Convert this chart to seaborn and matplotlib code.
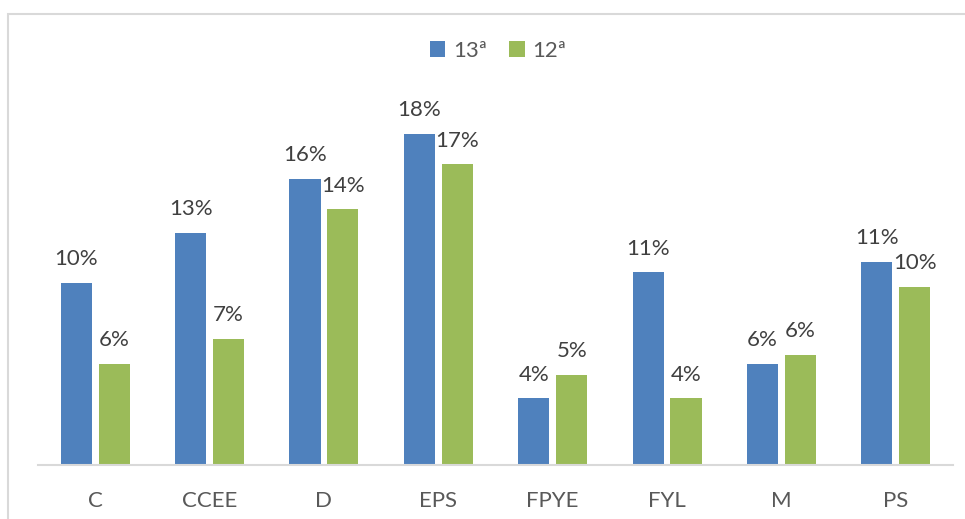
import pandas as pd
import matplotlib
matplotlib.use("Agg")
import matplotlib.pyplot as plt
from matplotlib.patches import Rectangle
import seaborn as sns

categories = ["C", "CCEE", "D", "EPS", "FPYE", "FYL", "M", "PS"]
vals_13 = [10.1, 12.9, 15.9, 18.4, 3.7, 10.7, 5.6, 11.3]
vals_12 = [5.6, 7.0, 14.2, 16.7, 5.0, 3.7, 6.1, 9.9]
series = ["13ª", "12ª"]
colors = ["#4F81BD", "#9BBB59"]

df = pd.DataFrame({
    "cat": categories * 2,
    "serie": [series[0]] * len(categories) + [series[1]] * len(categories),
    "val": vals_13 + vals_12,
})

sns.set_style("white")
plt.rcParams["font.family"] = ["Lato", "DejaVu Sans"]

fig = plt.figure(figsize=(9.65, 5.19), dpi=100)
ax = fig.add_axes([38 / 965, 54 / 519, 915 / 965, 360 / 519])

sns.barplot(data=df, x="cat", y="val", hue="serie", hue_order=series,
            palette=colors, width=0.664, gap=0.18, saturation=1,
            edgecolor="none", ax=ax, legend=True)

for cont in ax.containers:
    labs = ["%d%%" % round(b.get_height()) for b in cont]
    ax.bar_label(cont, labels=labs, padding=10, fontsize=16, color="#404040")

ax.set_xlim(-0.5, 7.5)
ax.set_ylim(0, 20)
ax.set_xlabel("")
ax.set_ylabel("")
ax.set_yticks([])
for s in ["top", "right", "left"]:
    ax.spines[s].set_visible(False)
ax.spines["bottom"].set_color("#D9D9D9")
ax.spines["bottom"].set_linewidth(1.5)
ax.tick_params(axis="x", length=0, pad=19, labelsize=16, labelcolor="#595959")

handles, labels = ax.get_legend_handles_labels()
ax.get_legend().remove()
fig.legend(handles, labels, loc="center", bbox_to_anchor=(498 / 965, 1 - 51 / 519),
           ncol=2, frameon=False, fontsize=16, handlelength=0.7, handleheight=0.7,
           handletextpad=0.35, columnspacing=1.0, labelcolor="#595959")

fig.add_artist(Rectangle((8 / 965, -0.1), 1.5, 1 - 14 / 519 + 0.1,
                         transform=fig.transFigure, fill=False,
                         edgecolor="#D9D9D9", linewidth=1.5))

fig.savefig("out.png", dpi=100)
